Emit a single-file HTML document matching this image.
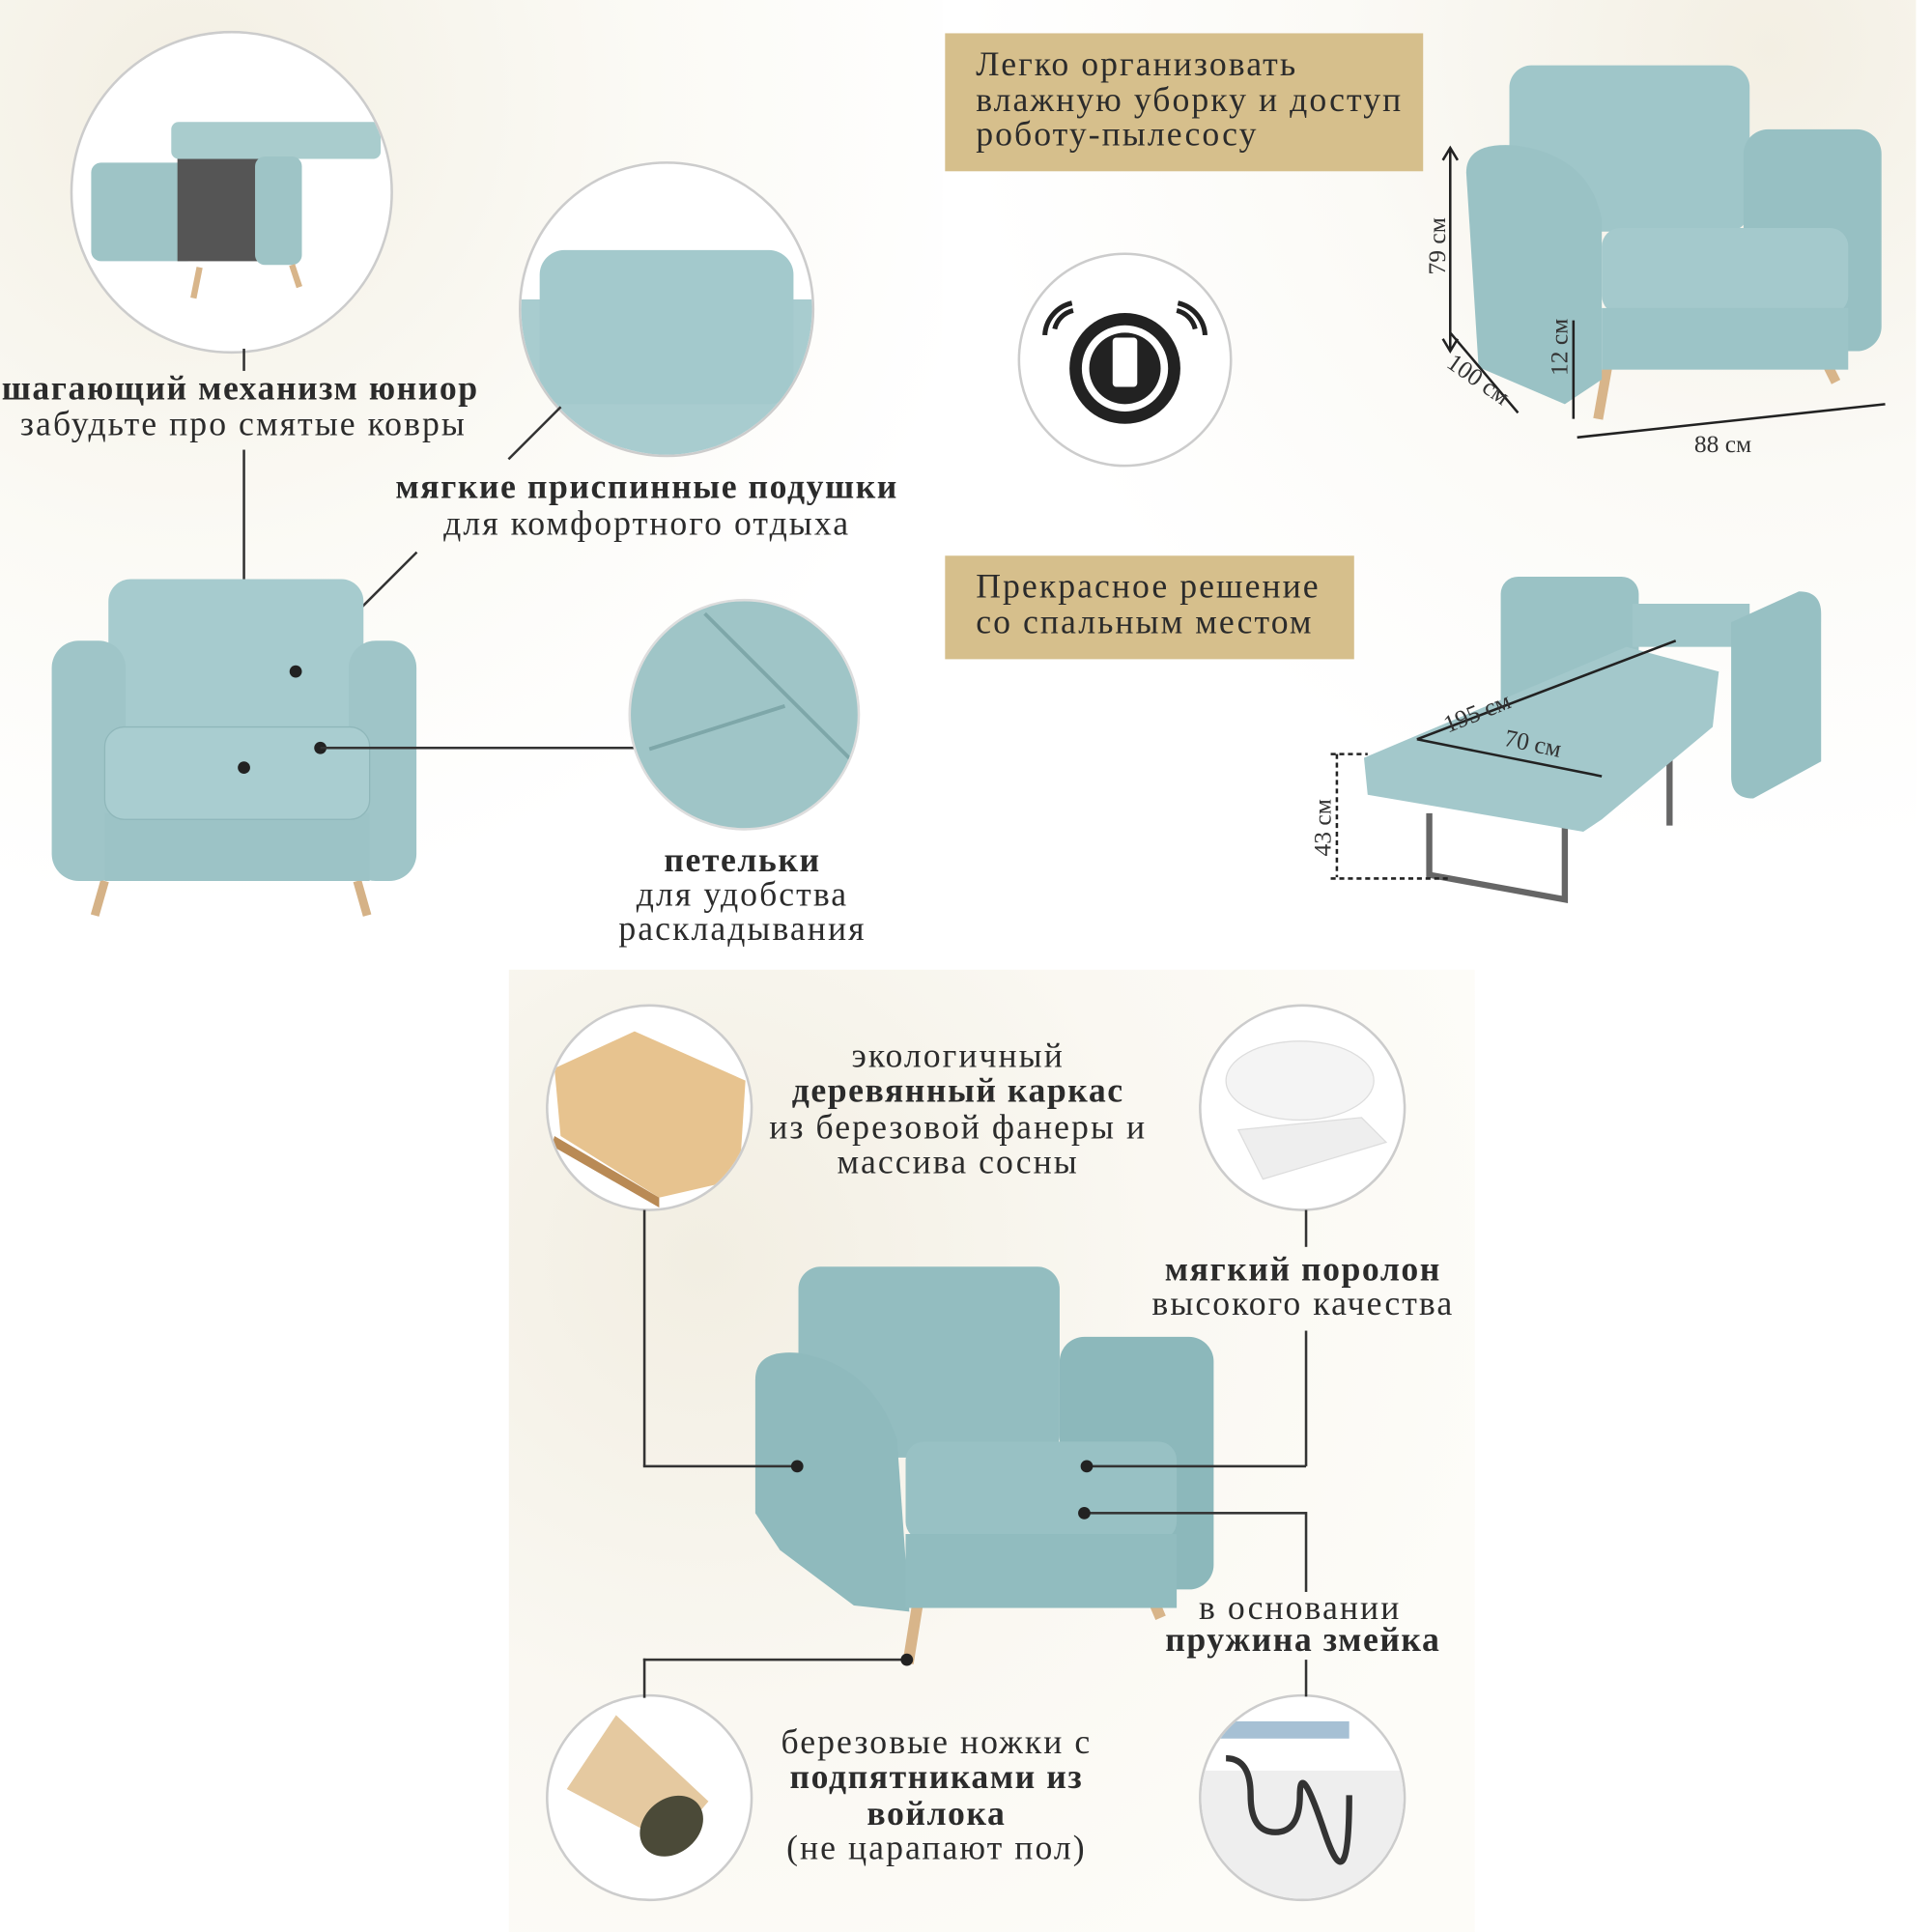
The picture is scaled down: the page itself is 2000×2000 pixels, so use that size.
<!DOCTYPE html>
<html><head><meta charset="utf-8"><style>
html,body{margin:0;padding:0;background:#fff;overflow:hidden}
#wrap{width:2000px;height:2000px;position:relative;overflow:hidden}
#s{position:absolute;left:0;top:0;width:1568px;height:1568px;transform-origin:0 0;transform:scale(1.27551);font-family:"Liberation Serif",serif;color:#2b2b2b}
.t{position:absolute;white-space:nowrap;font-size:28px;line-height:28px;text-align:center;letter-spacing:1.6px}
.b{font-weight:bold;font-size:28px!important;letter-spacing:1.2px}
.g{position:absolute;background:#d6bf8c}
.c{position:absolute;border-radius:50%;background:#fff;border:2px solid #ccc;overflow:hidden}
.c svg{position:absolute;left:0;top:0}
.line{position:absolute;background:#333}
.dot{position:absolute;width:10px;height:10px;border-radius:50%;background:#222;margin:-5px 0 0 -5px}
svg{overflow:visible}
</style></head><body><div id="wrap"><div id="s">
<div style="position:absolute;left:0;top:0;width:765px;height:785px;background:radial-gradient(circle at 20% 10%,#f3efe3 0,#fbfaf5 40%,#fff 70%)"></div>
<div style="position:absolute;left:765px;top:0;width:790px;height:785px;background:radial-gradient(circle at 85% 5%,#f3efe3 0,#fbfaf6 35%,#fff 65%)"></div>
<div style="position:absolute;left:413px;top:787px;width:784px;height:781px;background:radial-gradient(circle at 20% 30%,#f2eee2 0,#faf8f2 45%,#fdfcf8 80%)"></div>

<div class="c" style="left:57px;top:25px;width:258px;height:258px">
<svg width="258" height="258">
<rect x="15" y="105" width="85" height="80" rx="8" fill="#9ec4c6"/>
<rect x="85" y="95" width="75" height="90" fill="#555"/>
<rect x="80" y="72" width="170" height="30" rx="6" fill="#a9cccd"/>
<rect x="148" y="100" width="38" height="88" rx="8" fill="#9ec4c6"/>
<path d="M103 190 l-5 25 M178 188 l6 18" stroke="#d8b58a" stroke-width="5"/>
</svg></div>
<div class="t b" style="left:-10px;top:302px;width:410px">шагающий механизм юниор</div>
<div class="t" style="left:0;top:331px;width:395px">забудьте про смятые ковры</div>
<div class="line" style="left:197px;top:283px;width:1.5px;height:18px"></div>
<div class="line" style="left:197px;top:365px;width:1.5px;height:258px"></div>

<div class="c" style="left:421px;top:131px;width:236px;height:236px">
<svg width="236" height="236">
<rect x="0" y="110" width="236" height="130" fill="#a8cccf"/>
<rect x="15" y="70" width="206" height="125" rx="20" fill="#a3c9cc"/>
</svg></div>
<div class="line" style="left:412px;top:372px;width:60px;height:1.5px;transform:rotate(-45deg);transform-origin:0 0"></div>
<div class="t b" style="left:300px;top:382px;width:450px">мягкие приспинные подушки</div>
<div class="t" style="left:300px;top:412px;width:450px">для комфортного отдыха</div>
<div class="line" style="left:240px;top:545px;width:138px;height:1.5px;transform:rotate(-45deg);transform-origin:0 0"></div>

<svg style="position:absolute;left:40px;top:465px" width="305" height="285">
<path d="M45 250 l-8 28 M250 250 l8 28" stroke="#d5b287" stroke-width="7"/>
<rect x="48" y="5" width="207" height="125" rx="18" fill="#a6cbce"/>
<rect x="2" y="55" width="60" height="195" rx="22" fill="#9fc5c8"/>
<rect x="243" y="55" width="55" height="195" rx="22" fill="#9fc5c8"/>
<rect x="45" y="195" width="215" height="55" fill="#9cc3c6"/>
<rect x="45" y="125" width="215" height="75" rx="16" fill="#a9cdd0" stroke="#8fb7ba"/>
</svg>
<div class="dot" style="left:240px;top:545px"></div>
<div class="dot" style="left:198px;top:623px"></div>
<div class="dot" style="left:260px;top:607px"></div>
<div class="line" style="left:260px;top:606px;width:255px;height:1.5px"></div>

<div class="c" style="left:510px;top:486px;width:184px;height:184px;background:#9fc5c7;border-color:#ddd">
<svg width="184" height="184"><path d="M15 120 l110 -35 M60 10 l120 120" stroke="#7ea7a9" stroke-width="3" fill="none"/></svg></div>
<div class="t b" style="left:500px;top:685px;width:205px">петельки</div>
<div class="t" style="left:490px;top:713px;width:225px">для удобства</div>
<div class="t" style="left:470px;top:741px;width:265px">раскладывания</div>

<div class="g" style="left:767px;top:27px;width:388px;height:112px"></div>
<div class="t" style="left:792px;top:39px;text-align:left">Легко организовать</div>
<div class="t" style="left:792px;top:68px;text-align:left">влажную уборку и доступ</div>
<div class="t" style="left:792px;top:96px;text-align:left">роботу-пылесосу</div>

<div class="c" style="left:826px;top:205px;width:170px;height:170px">
<svg width="170" height="170">
<circle cx="85" cy="92" r="45" fill="#222"/>
<circle cx="85" cy="92" r="35" fill="#fff"/>
<circle cx="85" cy="92" r="29" fill="#222"/>
<rect x="75" y="67" width="20" height="40" rx="3" fill="#fff"/>
<path d="M28 60 a20 20 0 0 1 15 -15 M20 65 a28 28 0 0 1 22 -26 M142 60 a20 20 0 0 0 -15 -15 M150 65 a28 28 0 0 0 -22 -26" stroke="#222" stroke-width="4" fill="none"/>
</svg></div>

<svg style="position:absolute;left:1165px;top:45px" width="375" height="330">
<path d="M140 250 l-8 45 M310 235 l15 30" stroke="#d8b58a" stroke-width="8"/>
<rect x="60" y="8" width="195" height="135" rx="18" fill="#9fc6c9"/>
<rect x="250" y="60" width="112" height="180" rx="20" fill="#97c0c3"/>
<path d="M25 95 q0-25 40-22 q60 8 70 60 l0 130 -30 20 -70 -30 z" fill="#9ac2c5"/>
<rect x="135" y="140" width="200" height="70" rx="15" fill="#a4c9cc"/>
<rect x="135" y="205" width="200" height="50" fill="#9cc4c7"/>
<path d="M12 75 v165 M12 225 l55 65 M115 310 l250 -27 M112 215 v80" stroke="#222" stroke-width="2" fill="none"/>
<path d="M6 85 l6-10 6 10 M6 230 l6 10 6-10" stroke="#222" stroke-width="2" fill="none"/>
<text font-size="20" fill="#333" font-family="Liberation Serif" transform="translate(8 178) rotate(-90)">79 см</text>
<text font-size="20" fill="#333" font-family="Liberation Serif" transform="translate(107 260) rotate(-90)">12 см</text>
<text font-size="20" fill="#333" font-family="Liberation Serif" transform="translate(8 252) rotate(35)">100 см</text>
<text x="210" y="322" font-size="20" fill="#333" font-family="Liberation Serif">88 см</text>
</svg>

<div class="g" style="left:767px;top:451px;width:332px;height:84px"></div>
<div class="t" style="left:792px;top:463px;text-align:left">Прекрасное решение</div>
<div class="t" style="left:792px;top:492px;text-align:left">со спальным местом</div>

<svg style="position:absolute;left:1055px;top:460px" width="440" height="290">
<path d="M105 200 v50 l110 20 v-70 M300 150 v60" stroke="#666" stroke-width="5" fill="none"/>
<rect x="163" y="8" width="112" height="120" rx="14" fill="#9ac2c5"/>
<rect x="270" y="30" width="95" height="35" fill="#a0c6c9"/>
<path d="M52 155 l213-90 75 20 -5 45 -90 75 -15 10 -175-30 z" fill="#a3c8cb"/>
<path d="M350 45 l55-25 q18 0 18 18 v120 l-55 30 q-18 0 -18-18 z" fill="#97c0c3"/>
<path d="M25 152 h30 M25 253 h95 M30 152 v100" stroke="#222" stroke-width="2" stroke-dasharray="4 3" fill="none"/>
<path d="M95 140 l210 -80 M95 140 l150 30" stroke="#222" stroke-width="2" fill="none"/>
<text font-size="20" fill="#333" font-family="Liberation Serif" transform="translate(25 235) rotate(-90)">43 см</text>
<text font-size="20" fill="#333" font-family="Liberation Serif" transform="translate(120 135) rotate(-22)">195 см</text>
<text font-size="20" fill="#333" font-family="Liberation Serif" transform="translate(165 145) rotate(12)">70 см</text>
</svg>

<div class="c" style="left:443px;top:815px;width:164px;height:164px">
<svg width="164" height="164"><path d="M5 50 l65-30 90 40 -5 80 -65 15 -80-50z" fill="#e7c38f"/><path d="M5 105 l85 50 0 8 -87-50z" fill="#b98a55"/></svg></div>
<div class="c" style="left:973px;top:815px;width:164px;height:164px">
<svg width="164" height="164"><ellipse cx="80" cy="60" rx="60" ry="32" fill="#f4f4f4" stroke="#ddd"/><path d="M30 100 l100 -10 20 20 -100 30z" fill="#eee" stroke="#ddd"/></svg></div>
<div class="c" style="left:443px;top:1375px;width:164px;height:164px">
<svg width="164" height="164"><path d="M15 75 l40-60 75 70 -30 35z" fill="#e5c9a0"/><ellipse cx="100" cy="105" rx="28" ry="22" fill="#4b4a38" transform="rotate(-40 100 105)"/></svg></div>
<div class="c" style="left:973px;top:1375px;width:164px;height:164px">
<svg width="164" height="164"><rect x="0" y="60" width="164" height="110" fill="#eee"/><path d="M20 50 q20 0 20 30 t20 30 20-30 20 30 20-30" stroke="#333" stroke-width="5" fill="none"/><rect x="10" y="20" width="110" height="14" fill="#a6c0d4"/></svg></div>

<div class="t" style="left:580px;top:844px;width:395px">экологичный</div>
<div class="t b" style="left:580px;top:872px;width:395px">деревянный каркас</div>
<div class="t" style="left:580px;top:902px;width:395px">из березовой фанеры и</div>
<div class="t" style="left:580px;top:930px;width:395px">массива сосны</div>

<div class="t b" style="left:890px;top:1017px;width:335px">мягкий поролон</div>
<div class="t" style="left:890px;top:1045px;width:335px">высокого качества</div>

<div class="t" style="left:920px;top:1292px;width:270px">в основании</div>
<div class="t b" style="left:895px;top:1318px;width:325px">пружина змейка</div>

<div class="t" style="left:580px;top:1401px;width:360px">березовые ножки с</div>
<div class="t b" style="left:580px;top:1429px;width:360px">подпятниками из</div>
<div class="t b" style="left:580px;top:1459px;width:360px">войлока</div>
<div class="t" style="left:580px;top:1487px;width:360px">(не царапают пол)</div>

<svg style="position:absolute;left:605px;top:1020px" width="390" height="330">
<path d="M140 280 l-8 50 M325 265 l12 28" stroke="#d8b58a" stroke-width="9"/>
<rect x="43" y="8" width="212" height="155" rx="18" fill="#93bdc0"/>
<rect x="255" y="65" width="125" height="205" rx="20" fill="#8cb8bb"/>
<path d="M8 100 q0-25 35-22 q60 10 80 70 l10 140 -45 -5 -60 -45 -20 -30 z" fill="#8fbabd"/>
<rect x="130" y="150" width="220" height="80" rx="15" fill="#98c1c4"/>
<rect x="130" y="225" width="220" height="60" fill="#91bcbf"/>
</svg>

<div class="line" style="left:522px;top:982px;width:1.5px;height:208px"></div>
<div class="line" style="left:522px;top:1189px;width:125px;height:1.5px"></div>
<div class="dot" style="left:647px;top:1190px"></div>
<div class="line" style="left:1059px;top:982px;width:1.5px;height:30px"></div>
<div class="line" style="left:1059px;top:1080px;width:1.5px;height:110px"></div>
<div class="line" style="left:882px;top:1189px;width:178px;height:1.5px"></div>
<div class="dot" style="left:882px;top:1190px"></div>
<div class="line" style="left:880px;top:1227px;width:180px;height:1.5px"></div>
<div class="line" style="left:1059px;top:1227px;width:1.5px;height:65px"></div>
<div class="line" style="left:1059px;top:1347px;width:1.5px;height:30px"></div>
<div class="dot" style="left:880px;top:1228px"></div>
<div class="line" style="left:522px;top:1346px;width:214px;height:1.5px"></div>
<div class="line" style="left:522px;top:1346px;width:1.5px;height:32px"></div>
<div class="dot" style="left:736px;top:1347px"></div>
</div></div></body></html>
